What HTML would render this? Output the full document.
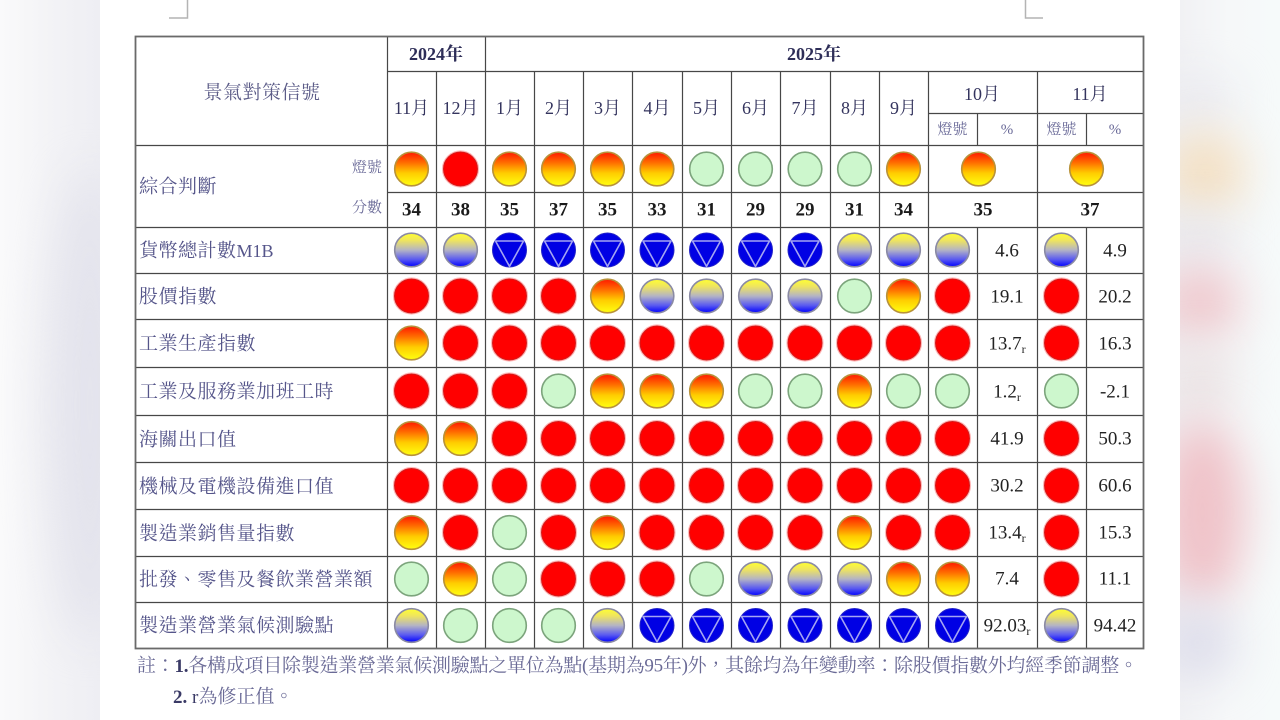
<!DOCTYPE html>
<html lang="zh-Hant">
<head>
<meta charset="utf-8">
<style>
  html,body{margin:0;padding:0;}
  body{width:1280px;height:720px;overflow:hidden;position:relative;background:#f8f8fa;}
  .bg{position:absolute;filter:blur(22px);border-radius:50%;}
  #page{position:absolute;left:100px;top:0;width:1080px;height:720px;background:#ffffff;}
  svg{position:absolute;left:0;top:0;}
</style>
</head>
<body>
<!-- left side blur -->
<div style="position:absolute;left:0;top:0;width:100px;height:720px;background:linear-gradient(to right,#fafafb 0%,#f3f3f6 50%,#eeeef3 100%);"></div>
<div class="bg" style="left:50px;top:170px;width:80px;height:470px;background:#e3e3ec;"></div>
<!-- right side blur -->
<div style="position:absolute;left:1180px;top:0;width:100px;height:720px;background:linear-gradient(to right,#f1f1f4 0%,#f6f8f9 50%,#f6fafa 100%);"></div>
<div class="bg" style="left:1165px;top:80px;width:70px;height:40px;background:#e8e8ee;"></div>
<div class="bg" style="left:1165px;top:130px;width:80px;height:85px;background:#f3e0c4;"></div>
<div class="bg" style="left:1165px;top:215px;width:70px;height:45px;background:#e6e6ec;"></div>
<div class="bg" style="left:1160px;top:265px;width:80px;height:75px;background:#efc9ce;"></div>
<div class="bg" style="left:1165px;top:345px;width:70px;height:70px;background:#ebe3e4;"></div>
<div class="bg" style="left:1160px;top:420px;width:85px;height:185px;background:#efc2c8;"></div>
<div class="bg" style="left:1160px;top:605px;width:75px;height:75px;background:#dedeeb;"></div>

<div id="page"></div>

<svg width="1280" height="720" viewBox="0 0 1280 720" xmlns="http://www.w3.org/2000/svg" lang="zh-Hant">
  <defs>
    <linearGradient id="gyr" x1="0" y1="0" x2="0" y2="1">
      <stop offset="0" stop-color="#ff1800"/>
      <stop offset="0.3" stop-color="#ff6a00"/>
      <stop offset="0.62" stop-color="#ffcc00"/>
      <stop offset="1" stop-color="#ffff10"/>
    </linearGradient>
    <linearGradient id="gyb" x1="0" y1="0" x2="0" y2="1">
      <stop offset="0" stop-color="#ffff30"/>
      <stop offset="0.22" stop-color="#eee460"/>
      <stop offset="0.5" stop-color="#b4b4c4"/>
      <stop offset="0.78" stop-color="#5a5af0"/>
      <stop offset="1" stop-color="#0000ff"/>
    </linearGradient>
    <g id="r">
      <circle r="18" fill="none" stroke="#ff9a9a" stroke-width="1.2" opacity="0.7"/>
      <circle r="17" fill="#ff0000" stroke="#d41a1a" stroke-width="1"/>
    </g>
    <g id="o">
      <circle r="16.8" fill="url(#gyr)" stroke="#b8923a" stroke-width="1.6"/>
    </g>
    <g id="g">
      <circle r="16.8" fill="#cdf7cd" stroke="#7ca47c" stroke-width="1.6"/>
    </g>
    <g id="yb">
      <circle r="16.8" fill="url(#gyb)" stroke="#8a8aa4" stroke-width="1.6"/>
    </g>
    <g id="b">
      <circle r="17" fill="#0000e4" stroke="#2424c8" stroke-width="1"/>
      <polygon points="-14,-9 14,-9 0,16.4" fill="none" stroke="#a4a4f2" stroke-width="1.6" stroke-linejoin="round"/>
    </g>
  </defs>

  <!-- corner marks -->
  <path d="M187.5 0 V18 H169" fill="none" stroke="#b4b4b4" stroke-width="1.5"/>
  <path d="M1025.5 0 V18 H1043" fill="none" stroke="#b4b4b4" stroke-width="1.5"/>

  <!-- table grid -->
  <g stroke="#474747" stroke-width="1.2" fill="none">
    <line x1="387" y1="71.5" x2="1144" y2="71.5"/>
    <line x1="928" y1="113.5" x2="1144" y2="113.5"/>
    <line x1="135" y1="145.5" x2="1144" y2="145.5"/>
    <line x1="387" y1="192.5" x2="1144" y2="192.5"/>
    <line x1="135" y1="227.5" x2="1144" y2="227.5"/>
    <line x1="135" y1="273.5" x2="1144" y2="273.5"/>
    <line x1="135" y1="319.5" x2="1144" y2="319.5"/>
    <line x1="135" y1="367.5" x2="1144" y2="367.5"/>
    <line x1="135" y1="415.5" x2="1144" y2="415.5"/>
    <line x1="135" y1="462.5" x2="1144" y2="462.5"/>
    <line x1="135" y1="509.5" x2="1144" y2="509.5"/>
    <line x1="135" y1="556.5" x2="1144" y2="556.5"/>
    <line x1="135" y1="602.5" x2="1144" y2="602.5"/>
    <line x1="387.5" y1="36" x2="387.5" y2="648"/>
    <line x1="436.5" y1="71" x2="436.5" y2="648"/>
    <line x1="485.5" y1="36" x2="485.5" y2="648"/>
    <line x1="534.5" y1="71" x2="534.5" y2="648"/>
    <line x1="583.5" y1="71" x2="583.5" y2="648"/>
    <line x1="632.5" y1="71" x2="632.5" y2="648"/>
    <line x1="682.5" y1="71" x2="682.5" y2="648"/>
    <line x1="731.5" y1="71" x2="731.5" y2="648"/>
    <line x1="780.5" y1="71" x2="780.5" y2="648"/>
    <line x1="830.5" y1="71" x2="830.5" y2="648"/>
    <line x1="879.5" y1="71" x2="879.5" y2="648"/>
    <line x1="928.5" y1="71" x2="928.5" y2="648"/>
    <line x1="977.5" y1="113" x2="977.5" y2="145"/>
    <line x1="977.5" y1="227" x2="977.5" y2="648"/>
    <line x1="1037.5" y1="71" x2="1037.5" y2="648"/>
    <line x1="1086.5" y1="113" x2="1086.5" y2="145"/>
    <line x1="1086.5" y1="227" x2="1086.5" y2="648"/>
  </g>
  <rect x="135.5" y="36.5" width="1008" height="612" fill="none" stroke="#6a6a6a" stroke-width="1.8"/>

  <!-- header text -->
  <g font-family="'Liberation Serif','Noto Serif CJK SC',serif" dominant-baseline="central" text-anchor="middle">
    <text x="262" y="93" font-size="19" fill="#5c5c88" letter-spacing="0.5">景氣對策信號</text>
    <text x="436" y="54" font-size="18" font-weight="bold" fill="#2e2e58">2024年</text>
    <text x="814" y="54" font-size="18" font-weight="bold" fill="#2e2e58">2025年</text>
    <g font-size="18" fill="#34345e">
      <text x="411.5" y="108">11月</text>
      <text x="460.5" y="108">12月</text>
      <text x="509.5" y="108">1月</text>
      <text x="558.5" y="108">2月</text>
      <text x="607.5" y="108">3月</text>
      <text x="657" y="108">4月</text>
      <text x="706.5" y="108">5月</text>
      <text x="755.5" y="108">6月</text>
      <text x="805" y="108">7月</text>
      <text x="854.5" y="108">8月</text>
      <text x="903.5" y="108">9月</text>
      <text x="982" y="94">10月</text>
      <text x="1090" y="94">11月</text>
    </g>
    <g font-size="15" fill="#6a6a98">
      <text x="952.5" y="130">燈號</text>
      <text x="1007" y="130">%</text>
      <text x="1061.5" y="130">燈號</text>
      <text x="1115" y="130">%</text>
    </g>
  </g>

  <!-- row labels -->
  <g font-family="'Liberation Serif','Noto Serif CJK SC',serif" dominant-baseline="central" font-size="19" fill="#55558a" letter-spacing="0.5">
    <text x="139" y="187">綜合判斷</text>
    <text x="139" y="251">貨幣總計數<tspan font-size="18" letter-spacing="0">M1B</tspan></text>
    <text x="139" y="297">股價指數</text>
    <text x="139" y="344">工業生產指數</text>
    <text x="139" y="392">工業及服務業加班工時</text>
    <text x="139" y="440">海關出口值</text>
    <text x="139" y="487">機械及電機設備進口值</text>
    <text x="139" y="534">製造業銷售量指數</text>
    <text x="139" y="580">批發、零售及餐飲業營業額</text>
    <text x="139" y="626">製造業營業氣候測驗點</text>
  </g>
  <g font-family="'Liberation Serif','Noto Serif CJK SC',serif" dominant-baseline="central" font-size="15" fill="#6a6a98" text-anchor="end">
    <text x="382" y="168">燈號</text>
    <text x="382" y="208">分數</text>
  </g>

  <!-- composite lights -->
  <use href="#o" x="411.5" y="169"/>
  <use href="#r" x="460.5" y="169"/>
  <use href="#o" x="509.5" y="169"/>
  <use href="#o" x="558.5" y="169"/>
  <use href="#o" x="607.5" y="169"/>
  <use href="#o" x="657" y="169"/>
  <use href="#g" x="706.5" y="169"/>
  <use href="#g" x="755.5" y="169"/>
  <use href="#g" x="805" y="169"/>
  <use href="#g" x="854.5" y="169"/>
  <use href="#o" x="903.5" y="169"/>
  <use href="#o" x="978.5" y="169"/>
  <use href="#o" x="1086.5" y="169"/>

  <!-- scores -->
  <g font-family="'Liberation Serif',serif" font-size="19" font-weight="bold" fill="#1a1a1a" dominant-baseline="central" text-anchor="middle">
    <text x="411.5" y="210">34</text>
    <text x="460.5" y="210">38</text>
    <text x="509.5" y="210">35</text>
    <text x="558.5" y="210">37</text>
    <text x="607.5" y="210">35</text>
    <text x="657" y="210">33</text>
    <text x="706.5" y="210">31</text>
    <text x="755.5" y="210">29</text>
    <text x="805" y="210">29</text>
    <text x="854.5" y="210">31</text>
    <text x="903.5" y="210">34</text>
    <text x="983" y="210">35</text>
    <text x="1090" y="210">37</text>
  </g>

  <!-- M1B y=250 -->
  <use href="#yb" x="411.5" y="250"/>
  <use href="#yb" x="460.5" y="250"/>
  <use href="#b" x="509.5" y="250"/>
  <use href="#b" x="558.5" y="250"/>
  <use href="#b" x="607.5" y="250"/>
  <use href="#b" x="657" y="250"/>
  <use href="#b" x="706.5" y="250"/>
  <use href="#b" x="755.5" y="250"/>
  <use href="#b" x="805" y="250"/>
  <use href="#yb" x="854.5" y="250"/>
  <use href="#yb" x="903.5" y="250"/>
  <use href="#yb" x="952.5" y="250"/>
  <use href="#yb" x="1061.5" y="250"/>

  <!-- stock y=296 -->
  <use href="#r" x="411.5" y="296"/>
  <use href="#r" x="460.5" y="296"/>
  <use href="#r" x="509.5" y="296"/>
  <use href="#r" x="558.5" y="296"/>
  <use href="#o" x="607.5" y="296"/>
  <use href="#yb" x="657" y="296"/>
  <use href="#yb" x="706.5" y="296"/>
  <use href="#yb" x="755.5" y="296"/>
  <use href="#yb" x="805" y="296"/>
  <use href="#g" x="854.5" y="296"/>
  <use href="#o" x="903.5" y="296"/>
  <use href="#r" x="952.5" y="296"/>
  <use href="#r" x="1061.5" y="296"/>

  <!-- industrial production y=343 -->
  <use href="#o" x="411.5" y="343"/>
  <use href="#r" x="460.5" y="343"/>
  <use href="#r" x="509.5" y="343"/>
  <use href="#r" x="558.5" y="343"/>
  <use href="#r" x="607.5" y="343"/>
  <use href="#r" x="657" y="343"/>
  <use href="#r" x="706.5" y="343"/>
  <use href="#r" x="755.5" y="343"/>
  <use href="#r" x="805" y="343"/>
  <use href="#r" x="854.5" y="343"/>
  <use href="#r" x="903.5" y="343"/>
  <use href="#r" x="952.5" y="343"/>
  <use href="#r" x="1061.5" y="343"/>

  <!-- overtime y=391 -->
  <use href="#r" x="411.5" y="391"/>
  <use href="#r" x="460.5" y="391"/>
  <use href="#r" x="509.5" y="391"/>
  <use href="#g" x="558.5" y="391"/>
  <use href="#o" x="607.5" y="391"/>
  <use href="#o" x="657" y="391"/>
  <use href="#o" x="706.5" y="391"/>
  <use href="#g" x="755.5" y="391"/>
  <use href="#g" x="805" y="391"/>
  <use href="#o" x="854.5" y="391"/>
  <use href="#g" x="903.5" y="391"/>
  <use href="#g" x="952.5" y="391"/>
  <use href="#g" x="1061.5" y="391"/>

  <!-- exports y=438.5 -->
  <use href="#o" x="411.5" y="438.5"/>
  <use href="#o" x="460.5" y="438.5"/>
  <use href="#r" x="509.5" y="438.5"/>
  <use href="#r" x="558.5" y="438.5"/>
  <use href="#r" x="607.5" y="438.5"/>
  <use href="#r" x="657" y="438.5"/>
  <use href="#r" x="706.5" y="438.5"/>
  <use href="#r" x="755.5" y="438.5"/>
  <use href="#r" x="805" y="438.5"/>
  <use href="#r" x="854.5" y="438.5"/>
  <use href="#r" x="903.5" y="438.5"/>
  <use href="#r" x="952.5" y="438.5"/>
  <use href="#r" x="1061.5" y="438.5"/>

  <!-- machinery imports y=485.5 -->
  <use href="#r" x="411.5" y="485.5"/>
  <use href="#r" x="460.5" y="485.5"/>
  <use href="#r" x="509.5" y="485.5"/>
  <use href="#r" x="558.5" y="485.5"/>
  <use href="#r" x="607.5" y="485.5"/>
  <use href="#r" x="657" y="485.5"/>
  <use href="#r" x="706.5" y="485.5"/>
  <use href="#r" x="755.5" y="485.5"/>
  <use href="#r" x="805" y="485.5"/>
  <use href="#r" x="854.5" y="485.5"/>
  <use href="#r" x="903.5" y="485.5"/>
  <use href="#r" x="952.5" y="485.5"/>
  <use href="#r" x="1061.5" y="485.5"/>

  <!-- manufacturing sales y=532.5 -->
  <use href="#o" x="411.5" y="532.5"/>
  <use href="#r" x="460.5" y="532.5"/>
  <use href="#g" x="509.5" y="532.5"/>
  <use href="#r" x="558.5" y="532.5"/>
  <use href="#o" x="607.5" y="532.5"/>
  <use href="#r" x="657" y="532.5"/>
  <use href="#r" x="706.5" y="532.5"/>
  <use href="#r" x="755.5" y="532.5"/>
  <use href="#r" x="805" y="532.5"/>
  <use href="#o" x="854.5" y="532.5"/>
  <use href="#r" x="903.5" y="532.5"/>
  <use href="#r" x="952.5" y="532.5"/>
  <use href="#r" x="1061.5" y="532.5"/>

  <!-- wholesale retail y=579 -->
  <use href="#g" x="411.5" y="579"/>
  <use href="#o" x="460.5" y="579"/>
  <use href="#g" x="509.5" y="579"/>
  <use href="#r" x="558.5" y="579"/>
  <use href="#r" x="607.5" y="579"/>
  <use href="#r" x="657" y="579"/>
  <use href="#g" x="706.5" y="579"/>
  <use href="#yb" x="755.5" y="579"/>
  <use href="#yb" x="805" y="579"/>
  <use href="#yb" x="854.5" y="579"/>
  <use href="#o" x="903.5" y="579"/>
  <use href="#o" x="952.5" y="579"/>
  <use href="#r" x="1061.5" y="579"/>

  <!-- business climate y=625.5 -->
  <use href="#yb" x="411.5" y="625.5"/>
  <use href="#g" x="460.5" y="625.5"/>
  <use href="#g" x="509.5" y="625.5"/>
  <use href="#g" x="558.5" y="625.5"/>
  <use href="#yb" x="607.5" y="625.5"/>
  <use href="#b" x="657" y="625.5"/>
  <use href="#b" x="706.5" y="625.5"/>
  <use href="#b" x="755.5" y="625.5"/>
  <use href="#b" x="805" y="625.5"/>
  <use href="#b" x="854.5" y="625.5"/>
  <use href="#b" x="903.5" y="625.5"/>
  <use href="#b" x="952.5" y="625.5"/>
  <use href="#yb" x="1061.5" y="625.5"/>

  <!-- percent values -->
  <g font-family="'Liberation Serif',serif" font-size="19" fill="#222" dominant-baseline="central" text-anchor="middle">
    <text x="1007" y="251">4.6</text>
    <text x="1115" y="251">4.9</text>
    <text x="1007" y="297">19.1</text>
    <text x="1115" y="297">20.2</text>
    <text x="1007" y="344">13.7<tspan font-size="12" dy="5">r</tspan></text>
    <text x="1115" y="344">16.3</text>
    <text x="1007" y="392">1.2<tspan font-size="12" dy="5">r</tspan></text>
    <text x="1115" y="392">-2.1</text>
    <text x="1007" y="439">41.9</text>
    <text x="1115" y="439">50.3</text>
    <text x="1007" y="486">30.2</text>
    <text x="1115" y="486">60.6</text>
    <text x="1007" y="533">13.4<tspan font-size="12" dy="5">r</tspan></text>
    <text x="1115" y="533">15.3</text>
    <text x="1007" y="579">7.4</text>
    <text x="1115" y="579">11.1</text>
    <text x="1007" y="626">92.03<tspan font-size="12" dy="5">r</tspan></text>
    <text x="1115" y="626">94.42</text>
  </g>

  <!-- footnotes -->
  <g font-family="'Liberation Serif','Noto Serif CJK SC',serif" font-size="19" fill="#6a6a96" dominant-baseline="central">
    <text x="137" y="666" textLength="1001" lengthAdjust="spacing">註：<tspan font-weight="bold" fill="#3a3a66">1.</tspan>各構成項目除製造業營業氣候測驗點之單位為點(基期為95年)外，其餘均為年變動率：除股價指數外均經季節調整。</text>
    <text x="173" y="697"><tspan font-weight="bold" fill="#3a3a66">2.</tspan> <tspan fill="#3a3a66">r</tspan>為修正值。</text>
  </g>
</svg>
</body>
</html>
